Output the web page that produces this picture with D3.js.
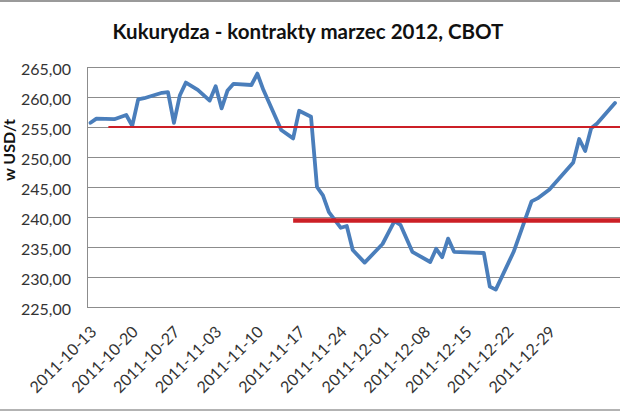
<!DOCTYPE html>
<html><head><meta charset="utf-8">
<script src="https://cdn.jsdelivr.net/npm/d3@7/dist/d3.min.js"></script>
<style>
html,body{margin:0;padding:0;background:#fff;overflow:hidden;}
svg{display:block;font-family:Lato,"Open Sans",sans-serif;}
</style></head>
<body>
<script>
// ---- data ----
const title = "Kukurydza - kontrakty marzec 2012, CBOT";
const yTitle = "w USD/t";
const dates = ["2011-10-13","2011-10-14","2011-10-17","2011-10-19","2011-10-20","2011-10-21","2011-10-22",
  "2011-10-25","2011-10-26","2011-10-27","2011-10-28","2011-10-29","2011-10-31","2011-11-02","2011-11-03",
  "2011-11-04","2011-11-05","2011-11-06","2011-11-09","2011-11-10","2011-11-11","2011-11-14","2011-11-16",
  "2011-11-17","2011-11-19","2011-11-20","2011-11-21","2011-11-22","2011-11-24","2011-11-25","2011-11-26",
  "2011-11-28","2011-12-01","2011-12-03","2011-12-04","2011-12-06","2011-12-09","2011-12-10","2011-12-11",
  "2011-12-12","2011-12-13","2011-12-18","2011-12-19","2011-12-20","2011-12-23","2011-12-26","2011-12-27",
  "2011-12-29","2012-01-02","2012-01-03","2012-01-04","2012-01-05","2012-01-06","2012-01-09"];
const prices = [255.7,256.4,256.3,257.0,255.2,259.6,259.8,
  260.7,260.8,255.7,260.3,262.4,261.2,259.4,261.8,
  258.1,261.1,262.2,262.0,263.9,261.2,254.5,253.1,
  257.7,256.7,245.0,243.6,240.8,238.2,238.5,234.5,
  232.4,235.5,239.3,238.7,234.2,232.5,234.7,233.3,
  236.4,234.2,234.0,228.4,227.9,234.2,242.6,243.1,
  244.6,249.1,253.0,251.0,254.8,255.6,259.0];
const levelValues = [255.0, 239.4];
const levelStarts = ["2011-10-16","2011-11-16"];
const xTickLabels = ["2011-10-13","2011-10-20","2011-10-27","2011-11-03","2011-11-10","2011-11-17",
  "2011-11-24","2011-12-01","2011-12-08","2011-12-15","2011-12-22","2011-12-29"];
const yTickValues = [225,230,235,240,245,250,255,260,265];
const xDomain = ["2011-10-13","2012-01-13"];

// ---- chart ----
const W = 620, H = 413;
const parse = d3.utcParse("%Y-%m-%d");
const plot = {left:87, top:67, bottom:307, right:640};
const x = d3.scaleUtc().domain(xDomain.map(parse)).range([90.5, 90.5 + 92*5.96]);
const y = d3.scaleLinear().domain([225,265]).range([plot.bottom, plot.top]);
const fmt = v => d3.format(".2f")(v).replace(".", ",");

const svg = d3.select("body").append("svg").attr("width", W).attr("height", H);
svg.append("rect").attr("width", W).attr("height", H).attr("fill", "#fff");

// outer border
svg.append("line").attr("x1",0).attr("x2",W).attr("y1",1).attr("y2",1).attr("stroke","#9a9a9a").attr("stroke-width",2);
svg.append("line").attr("x1",0).attr("x2",W).attr("y1",410).attr("y2",410).attr("stroke","#9a9a9a").attr("stroke-width",1.5);

// title
svg.append("text").attr("x", 308).attr("y", 39).attr("text-anchor","middle")
  .attr("font-size", 20.5).attr("font-weight", 700).attr("fill","#111").text(title);

// gridlines
const yAxis = d3.axisLeft(y).tickValues(yTickValues).tickSize(-(plot.right-plot.left)).tickFormat(fmt).tickPadding(16);
const gy = svg.append("g").attr("transform", `translate(${plot.left},0)`).call(yAxis);
gy.select(".domain").remove();
gy.selectAll(".tick line").attr("stroke","#8c8c8c").attr("stroke-width",1).attr("shape-rendering","crispEdges");
gy.selectAll(".tick text").attr("font-size",16).attr("fill","#333").attr("dy","0.45em").attr("font-family","Lato");

// axis lines
svg.append("line").attr("x1",plot.left).attr("x2",plot.left).attr("y1",plot.top).attr("y2",plot.bottom)
  .attr("stroke","#8c8c8c").attr("shape-rendering","crispEdges");

// x axis labels
const gx = svg.append("g");
gx.selectAll("text").data(xTickLabels).join("text")
  .attr("transform", d => `translate(${x(parse(d))+3},${329}) rotate(-45)`)
  .attr("text-anchor","end").attr("dy","0.35em")
  .attr("font-size",16).attr("fill","#333").text(d => d);

// y title
svg.append("text").attr("transform","translate(15,150) rotate(-90)")
  .attr("text-anchor","middle").attr("font-size",16).attr("font-weight",700).attr("fill","#111").text(yTitle);

// series
const series = dates.map((d,i) => ({date: parse(d), value: prices[i]}));
const line = d3.line().x(d => x(d.date)).y(d => y(d.value));
svg.append("path").datum(series).attr("d", line).attr("fill","none")
  .attr("stroke","#4a7ebb").attr("stroke-width",3.8).attr("stroke-linejoin","round").attr("stroke-linecap","round");

// red level lines
const levelWidths = [2, 4.5];
svg.selectAll(".level").data(levelValues).join("line").attr("class","level")
  .attr("x1", (d,i) => x(parse(levelStarts[i]))).attr("x2", x(parse(xDomain[1])))
  .attr("y1", d => y(d)).attr("y2", d => y(d))
  .attr("stroke","#cc1f26").attr("stroke-width",(d,i) => levelWidths[i]);
</script>
</body></html>
